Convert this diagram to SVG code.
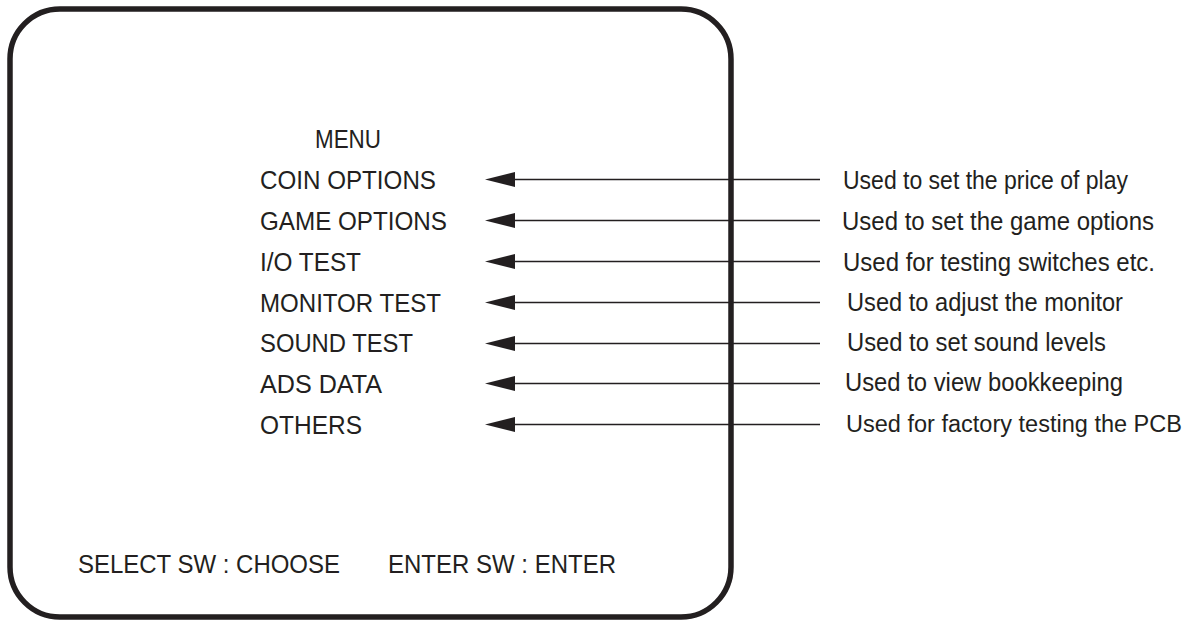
<svg xmlns="http://www.w3.org/2000/svg" width="1196" height="621" viewBox="0 0 1196 621">
<style>
text{font-family:"Liberation Sans",Arial,sans-serif;font-size:25px;fill:#231f20}
.line{stroke:#231f20;stroke-width:1.4;fill:none}
.frame{fill:none;stroke:#231f20;stroke-width:5.5}
</style>
<defs>
<marker id="ah" markerUnits="userSpaceOnUse" markerWidth="32" markerHeight="18" refX="0" refY="8" orient="auto" viewBox="0 0 32 16">
<path d="M30,8 L0,0.5 L0,15.5 Z" fill="#231f20"/>
</marker>
</defs>
<rect width="1196" height="621" fill="#ffffff"/>
<g id="screen">
<rect class="frame" x="10" y="9" width="721" height="608" rx="50" ry="50"/>
<text x="315" y="148" textLength="66" lengthAdjust="spacingAndGlyphs">MENU</text>
<text x="78" y="573" textLength="262" lengthAdjust="spacingAndGlyphs">SELECT SW : CHOOSE</text>
<text x="388" y="573" textLength="228" lengthAdjust="spacingAndGlyphs">ENTER SW : ENTER</text>
</g>
<g id="item-coin"><text x="260" y="189" textLength="176" lengthAdjust="spacingAndGlyphs">COIN OPTIONS</text></g>
<g id="item-game"><text x="260" y="230" textLength="187" lengthAdjust="spacingAndGlyphs">GAME OPTIONS</text></g>
<g id="item-io"><text x="260" y="271" textLength="101" lengthAdjust="spacingAndGlyphs">I/O TEST</text></g>
<g id="item-monitor"><text x="260" y="312" textLength="181" lengthAdjust="spacingAndGlyphs">MONITOR TEST</text></g>
<g id="item-sound"><text x="260" y="352" textLength="153" lengthAdjust="spacingAndGlyphs">SOUND TEST</text></g>
<g id="item-ads"><text x="260" y="393" textLength="122" lengthAdjust="spacingAndGlyphs">ADS DATA</text></g>
<g id="item-others"><text x="260" y="434" textLength="102" lengthAdjust="spacingAndGlyphs">OTHERS</text></g>
<g id="desc-coin"><text x="843" y="189" textLength="285" lengthAdjust="spacingAndGlyphs">Used to set the price of play</text></g>
<g id="desc-game"><text x="842" y="230" textLength="312" lengthAdjust="spacingAndGlyphs">Used to set the game options</text></g>
<g id="desc-io"><text x="843" y="271" textLength="312" lengthAdjust="spacingAndGlyphs">Used for testing switches etc.</text></g>
<g id="desc-monitor"><text x="847" y="311" textLength="276" lengthAdjust="spacingAndGlyphs">Used to adjust the monitor</text></g>
<g id="desc-sound"><text x="847" y="351" textLength="259" lengthAdjust="spacingAndGlyphs">Used to set sound levels</text></g>
<g id="desc-ads"><text x="845" y="391" textLength="278" lengthAdjust="spacingAndGlyphs">Used to view bookkeeping</text></g>
<g id="desc-others"><text x="846" y="432" style="font-size:23px" textLength="336" lengthAdjust="spacingAndGlyphs">Used for factory testing the PCB</text></g>
<g id="connectors">
<path class="line" d="M820,179.5 H515" marker-end="url(#ah)"/>
<path class="line" d="M820,220.5 H515" marker-end="url(#ah)"/>
<path class="line" d="M820,261.5 H515" marker-end="url(#ah)"/>
<path class="line" d="M820,302.5 H515" marker-end="url(#ah)"/>
<path class="line" d="M820,343.5 H515" marker-end="url(#ah)"/>
<path class="line" d="M820,383.5 H515" marker-end="url(#ah)"/>
<path class="line" d="M820,424.5 H515" marker-end="url(#ah)"/>
</g>
</svg>
